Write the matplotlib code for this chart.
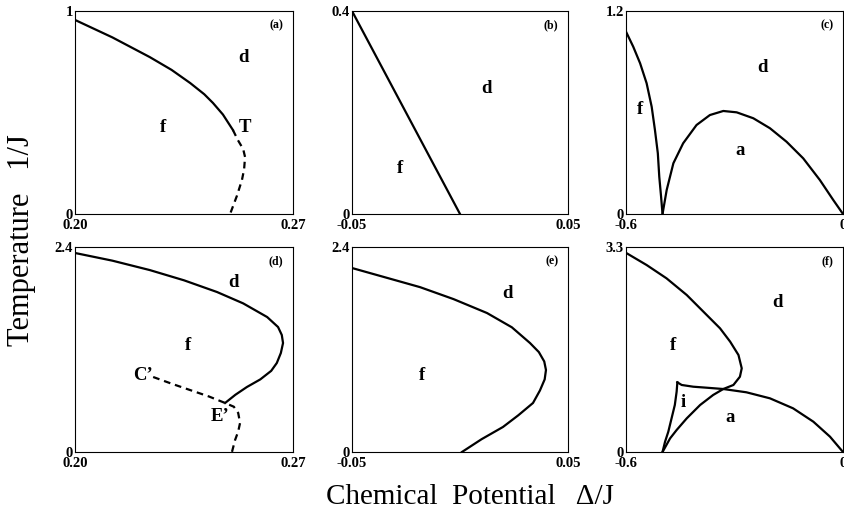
import numpy as np
import matplotlib
matplotlib.use('Agg')
import matplotlib.pyplot as plt

plt.rcParams['font.family'] = ['Liberation Serif', 'DejaVu Serif']

# --- panel (a) ---
a_solid_x = [0.200, 0.212, 0.224, 0.231, 0.237, 0.2415, 0.2443, 0.2475, 0.2507]
a_solid_y = [0.956, 0.87, 0.773, 0.71, 0.645, 0.59, 0.547, 0.49, 0.414]
a_dash_x = [0.2507, 0.2523, 0.254, 0.2546, 0.2543, 0.2536, 0.252, 0.2498]
a_dash_y = [0.414, 0.364, 0.32, 0.281, 0.22, 0.167, 0.09, 0.0]

# --- panel (b) ---
b_x = [-0.05, 0.0]
b_y = [0.4, 0.0]

# --- panel (c) ---
c_f_x = [-0.6, -0.580, -0.561, -0.543, -0.529, -0.520, -0.512, -0.508, -0.503, -0.499]
c_f_y = [1.078, 0.989, 0.891, 0.773, 0.634, 0.497, 0.359, 0.220, 0.102, 0.0]
c_a_x = [-0.499, -0.4875, -0.469, -0.442, -0.405, -0.368, -0.331, -0.294, -0.248,
         -0.202, -0.156, -0.110, -0.064, -0.027, 0.0]
c_a_y = [0.0, 0.142, 0.300, 0.418, 0.526, 0.585, 0.609, 0.601, 0.566,
         0.507, 0.427, 0.329, 0.201, 0.083, 0.0]

# --- panel (d) ---
d_solid_x = [0.200, 0.212, 0.224, 0.235, 0.2456, 0.254, 0.2617, 0.2652, 0.2664,
             0.2668, 0.2661, 0.2648, 0.2630, 0.2595, 0.2552, 0.2515, 0.2482]
d_solid_y = [2.33, 2.24, 2.13, 2.01, 1.873, 1.74, 1.58, 1.463, 1.37,
             1.276, 1.159, 1.042, 0.95, 0.85, 0.761, 0.67, 0.574]
d_dash_x = [0.2251, 0.2310, 0.2369, 0.2430, 0.2482, 0.2510, 0.2524, 0.2530,
            0.2524, 0.2514, 0.2504]
d_dash_y = [0.878, 0.80, 0.726, 0.65, 0.574, 0.53, 0.457, 0.34, 0.24, 0.14, 0.0]

# --- panel (e) ---
e_x = [-0.05, -0.0185, -0.003, 0.0125, 0.024, 0.0324, 0.0365, 0.0390, 0.0398,
       0.0392, 0.0370, 0.0338, 0.027, 0.0199, 0.010, 0.0009]
e_y = [2.154, 1.93, 1.79, 1.627, 1.46, 1.276, 1.17, 1.06, 0.96,
       0.85, 0.72, 0.574, 0.43, 0.293, 0.15, 0.0]

# --- panel (f) ---
f_big_x = [-0.598, -0.543, -0.488, -0.432, -0.386, -0.340, -0.312, -0.289, -0.280,
           -0.285, -0.303, -0.331, -0.359, -0.395, -0.432, -0.460, -0.478, -0.499]
f_big_y = [3.199, 3.010, 2.796, 2.527, 2.259, 1.991, 1.776, 1.561, 1.347,
           1.212, 1.079, 1.014, 0.918, 0.757, 0.542, 0.354, 0.220, 0.0]
f_a_x = [-0.458, -0.446, -0.414, -0.377, -0.331, -0.267, -0.202, -0.138,
         -0.082, -0.036, 0.0]
f_a_y = [1.121, 1.079, 1.051, 1.035, 1.014, 0.961, 0.864, 0.703, 0.488, 0.247, 0.0]
f_i_x = [-0.458, -0.460, -0.465, -0.474, -0.483, -0.492, -0.499]
f_i_y = [1.121, 0.971, 0.757, 0.542, 0.327, 0.166, 0.0]

panels = [
    dict(tag='(a)', xlim=(0.20, 0.27), ylim=(0, 1), xt=('0.20', '0.27'), yt=('0', '1'),
         solid=[(a_solid_x, a_solid_y)], dashed=[(a_dash_x, a_dash_y)],
         labels=[('d', 0.254, 0.773), ('f', 0.2283, 0.424), ('T', 0.2546, 0.424)]),
    dict(tag='(b)', xlim=(-0.05, 0.05), ylim=(0, 0.4), xt=('-0.05', '0.05'), yt=('0', '0.4'),
         solid=[(b_x, b_y)], dashed=[],
         labels=[('d', 0.0125, 0.248), ('f', -0.0278, 0.0906)]),
    dict(tag='(c)', xlim=(-0.6, 0), ylim=(0, 1.2), xt=('-0.6', '0'), yt=('0', '1.2'),
         solid=[(c_f_x, c_f_y), (c_a_x, c_a_y)], dashed=[],
         labels=[('d', -0.222, 0.867), ('f', -0.561, 0.615), ('a', -0.285, 0.378)]),
    dict(tag='(d)', xlim=(0.20, 0.27), ylim=(0, 2.4), xt=('0.20', '0.27'), yt=('0', '2.4'),
         solid=[(d_solid_x, d_solid_y)], dashed=[(d_dash_x, d_dash_y)],
         labels=[('d', 0.2508, 1.98), ('f', 0.2363, 1.25), ("C\u2019", 0.2219, 0.90),
                 ("E\u2019", 0.2466, 0.41)]),
    dict(tag='(e)', xlim=(-0.05, 0.05), ylim=(0, 2.4), xt=('-0.05', '0.05'), yt=('0', '2.4'),
         solid=[(e_x, e_y)], dashed=[],
         labels=[('d', 0.0222, 1.86), ('f', -0.0176, 0.90)]),
    dict(tag='(f)', xlim=(-0.6, 0), ylim=(0, 3.3), xt=('-0.6', '0'), yt=('0', '3.3'),
         solid=[(f_big_x, f_big_y), (f_a_x, f_a_y), (f_i_x, f_i_y)], dashed=[],
         labels=[('d', -0.180, 2.40), ('f', -0.47, 1.72), ('i', -0.442, 0.79),
                 ('a', -0.312, 0.563)]),
]

W, H = 844, 520
fig = plt.figure(figsize=(W / 100, H / 100), dpi=100)
lefts = [75, 352, 626]
rows = [(11, 214), (247, 452)]
widths = [218, 216, 217]

for k, p in enumerate(panels):
    col, row = k % 3, k // 3
    top, bot = rows[row]
    ax = fig.add_axes([lefts[col] / W, 1 - bot / H, widths[col] / W, (bot - top) / H])
    for xs, ys in p['solid']:
        ax.plot(xs, ys, color='black', lw=1.6, solid_joinstyle='round')
    for xs, ys in p['dashed']:
        ax.plot(xs, ys, color='black', lw=1.6, ls=(0, (3, 2.2)))
    for s, x, y in p['labels']:
        ax.text(x, y, s, fontsize=13.5, fontweight='bold', ha='center', va='center')
    ax.text(0.955, 0.93, p['tag'], transform=ax.transAxes, fontsize=8.5,
            fontweight='bold', ha='right', va='center')
    ax.set_xlim(*p['xlim'])
    ax.set_ylim(*p['ylim'])
    ax.set_xticks(p['xlim'], p['xt'])
    ax.set_yticks(p['ylim'], p['yt'])
    ax.tick_params(length=0, labelsize=10.5)
    ax.tick_params(axis='x', pad=3.5)
    ax.tick_params(axis='y', pad=1.5)
    for lab in ax.get_xticklabels() + ax.get_yticklabels():
        lab.set_fontweight('bold')
    for sp in ax.spines.values():
        sp.set_linewidth(0.8)

fig.text(22 / W, 1 - 240 / H, 'Temperature   1/J', rotation=90, fontsize=22,
         ha='center', va='center')
fig.text(470 / W, 1 - 497 / H, 'Chemical  Potential   \u0394/J', fontsize=21,
         ha='center', va='center')

fig.savefig('out.png', dpi=100)
